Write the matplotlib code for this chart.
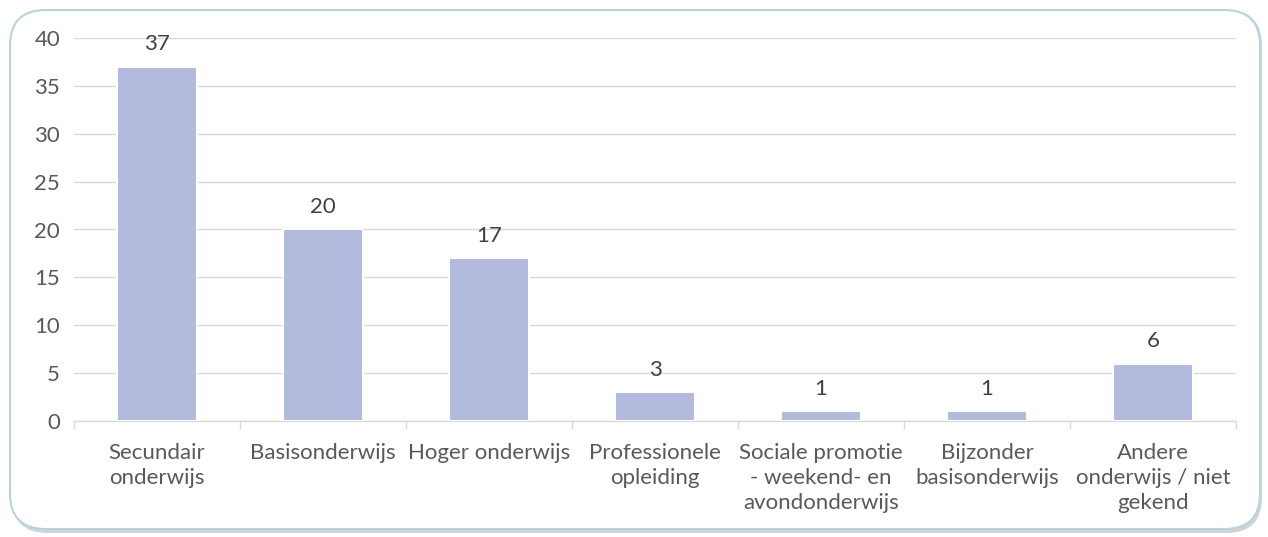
import matplotlib
matplotlib.use("Agg")
import matplotlib.pyplot as plt
from matplotlib.patches import FancyBboxPatch
from matplotlib.ticker import FixedLocator

categories = ["Secundair\nonderwijs", "Basisonderwijs", "Hoger onderwijs",
              "Professionele\nopleiding", "Sociale promotie\n- weekend- en\navondonderwijs",
              "Bijzonder\nbasisonderwijs", "Andere\nonderwijs / niet\ngekend"]
values = [37, 20, 17, 3, 1, 1, 6]
yticks = [0, 5, 10, 15, 20, 25, 30, 35, 40]

plt.rcParams['font.family'] = ['Lato', 'DejaVu Sans']

W, H = 1268, 537
fig = plt.figure(figsize=(W/100, H/100), dpi=100)

# frame with shadow
shadow = FancyBboxPatch((12/W, 4/H), 1250/W, (H-14)/H, transform=fig.transFigure,
                        boxstyle="round,pad=0,rounding_size=0.028", mutation_aspect=W/H,
                        facecolor="#cfd4d8", edgecolor="none", zorder=-2)
frame = FancyBboxPatch((10/W, 8/H), 1250/W, (H-18)/H, transform=fig.transFigure,
                       boxstyle="round,pad=0,rounding_size=0.028", mutation_aspect=W/H,
                       facecolor="white", edgecolor="#B9D3DD", linewidth=1.5, zorder=-1)
fig.patches.extend([shadow, frame])

ax = fig.add_axes([74/W, 1-421/H, (1236-74)/W, (421-38)/H])
ax.set_facecolor("none")
x = list(range(len(categories)))
bars = ax.bar(x, values, width=0.48, color="#B1B9DC", edgecolor="white", linewidth=1.5, zorder=3)
for xi, v in zip(x, values):
    ax.text(xi, v + 1.3, str(v), ha="center", va="bottom", fontsize=16, color="#404040", zorder=4)

ax.set_xlim(-0.5, len(categories) - 0.5)
ax.set_ylim(0, 40)
ax.set_yticks(yticks)
ax.yaxis.grid(True, color="#D9D9D9", linewidth=1, zorder=0)
ax.set_axisbelow(True)
for s in ["top", "right", "left"]:
    ax.spines[s].set_visible(False)
ax.spines["bottom"].set_color("#D9D9D9")
ax.spines["bottom"].set_linewidth(1)
ax.tick_params(axis="y", length=0, labelsize=16, labelcolor="#595959", pad=10)
ax.set_xticks(x)
ax.set_xticklabels(categories, linespacing=1.3)
ax.tick_params(axis="x", length=0, labelsize=16, labelcolor="#595959", pad=16)
ax.xaxis.set_minor_locator(FixedLocator([i - 0.5 for i in range(len(categories) + 1)]))
ax.tick_params(axis="x", which="minor", length=6, color="#D9D9D9", width=1)

fig.savefig("out.png", dpi=100)
